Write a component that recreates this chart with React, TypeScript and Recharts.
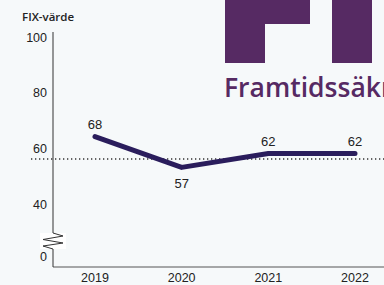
import { LineChart, Line, XAxis, YAxis, ReferenceLine, LabelList } from 'recharts'

const years = ['2019', '2020', '2021', '2022']
const fixValues = [68, 57, 62, 62]
const yTicks = [21.4, 40, 60, 80, 100]
const yTickLabels = ['0', '40', '60', '80', '100']
const refValue = 60

const data = years.map((year, i) => ({ year, fix: fixValues[i] }))

const FONT = '"Liberation Sans", Arial, sans-serif'
const INK = '#2a1d5c'
const LOGO = '#562a63'

const YTick = ({ x, y, payload, index }: any) => (
  <g>
    {index === 0 && (
      <g>
        <rect x={x - 7} y={y - 34} width={26} height={16} fill="#ffffff" />
        <polyline
          points={`${x + 6},${y - 34} ${x + 16},${y - 31} ${x - 4},${y - 27.5} ${x + 16},${y - 24} ${x - 4},${y - 21} ${x + 6},${y - 18}`}
          fill="none"
          stroke="#333"
          strokeWidth={1}
        />
      </g>
    )}
    <text x={x} y={y - 10} dy="0.355em" textAnchor="end" fontSize={12.5} fill="#222" fontFamily={FONT}>
      {yTickLabels[yTicks.indexOf(payload.value)] ?? payload.value}
    </text>
  </g>
)

const ValueLabel = ({ x, y, value, index }: any) => {
  const below = index === 1
  return (
    <text x={x} y={below ? y + 16 : y - 12} dy="0.355em" textAnchor="middle" fontSize={13} fill="#222" fontFamily={FONT}>
      {value}
    </text>
  )
}

const DottedRef = (props: any) => (
  <line x1={props.x1 - 22} y1={props.y1} x2={props.x2} y2={props.y2} stroke="#333" strokeWidth={1.3} strokeDasharray="1.3 2.7" />
)

export default function App() {
  return (
    <div style={{ position: 'absolute', left: 0, top: 0, width: 384, height: 285, background: '#f6f9fa', overflow: 'hidden', fontFamily: FONT }}>
      <svg width={384} height={105} style={{ position: 'absolute', left: 0, top: 0 }}>
        <rect x={225} y={0} width={85} height={24} fill={LOGO} />
        <rect x={225} y={0} width={40} height={63} fill={LOGO} />
        <rect x={332} y={0} width={40} height={63} fill={LOGO} />
        <text x={224} y={97} fontSize={26.5} fontWeight={600} fill={LOGO} fontFamily='"Open Sans", sans-serif'>
          Framtidssäkr
        </text>
      </svg>
      <div style={{ position: 'absolute', left: 22, top: 9, fontSize: 11.5, fontWeight: 600, color: '#222', fontFamily: '"Open Sans", sans-serif' }}>FIX-värde</div>
      <div style={{ position: 'absolute', left: 0, top: 0 }}>
        <LineChart width={384} height={285} data={data} margin={{ top: 32, right: 0, bottom: 0, left: 0 }}>
          <XAxis
            dataKey="year"
            height={18}
            axisLine={{ stroke: '#555' }}
            tickLine={false}
            tickSize={0}
            tickMargin={6}
            padding={{ left: 42, right: 29 }}
            tick={{ fontSize: 12.5, fill: '#222', fontFamily: FONT }}
            interval={0}
          />
          <YAxis
            type="number"
            domain={[21.4, 105.4]}
            ticks={yTicks}
            width={53}
            axisLine={{ stroke: '#333' }}
            tickLine={false}
            tickSize={0}
            tickMargin={6}
            tick={<YTick />}
            interval={0}
          />
          <ReferenceLine y={refValue} shape={<DottedRef />} ifOverflow="visible" />
          <Line
            type="linear"
            dataKey="fix"
            stroke={INK}
            strokeWidth={5}
            strokeLinecap="round"
            strokeLinejoin="round"
            dot={false}
            activeDot={false}
            isAnimationActive={false}
          >
            <LabelList dataKey="fix" content={<ValueLabel />} />
          </Line>
        </LineChart>
      </div>
    </div>
  )
}
